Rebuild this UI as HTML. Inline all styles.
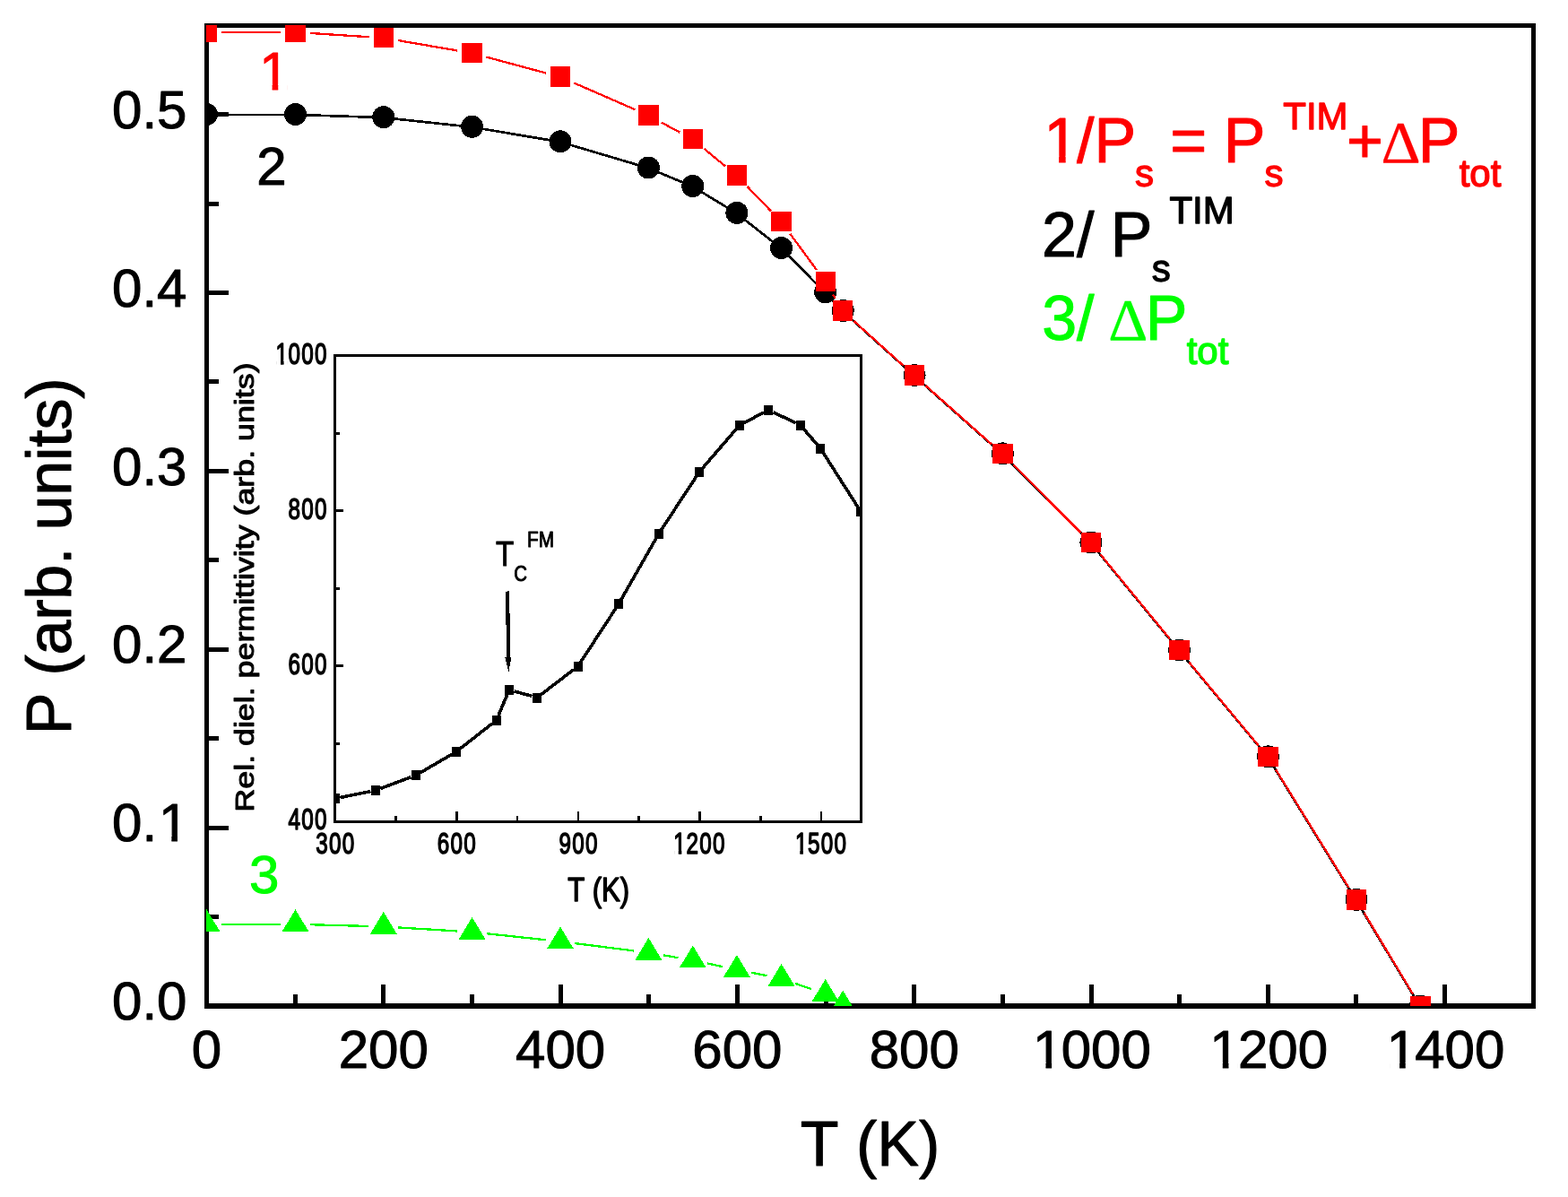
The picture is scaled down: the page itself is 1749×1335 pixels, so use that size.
<!DOCTYPE html>
<html lang="en"><head><meta charset="utf-8"><title>Polarization versus temperature</title>
<style>html,body{margin:0;padding:0;background:#fff}body{width:1749px;height:1335px;overflow:hidden}svg{display:block}text{font-family:"Liberation Sans",sans-serif;font-kerning:none;font-variant-ligatures:none}text.sym{font-family:"Liberation Serif","DejaVu Serif",serif}</style>
</head><body>
<svg width="1749" height="1335" viewBox="0 0 1749 1335">
<rect x="0" y="0" width="1749" height="1335" fill="#fff"/>
<defs><clipPath id="cm"><rect x="230" y="28" width="1483" height="1094"/></clipPath>
<clipPath id="ci"><rect x="372.2" y="395.3" width="589.4" height="522.6"/></clipPath>
<clipPath id="k1"><path clip-rule="evenodd" d="M-10 -32.8 H88.07 V13.12 H-10 Z M2.13 -4.4 H8.33 V2.25 H2.13 Z M13.03 -4.4 H18.97 V2.25 H13.03 Z"/></clipPath><clipPath id="k2"><path clip-rule="evenodd" d="M-10 -32.8 H88.07 V13.12 H-10 Z M2.13 -4.4 H8.33 V2.25 H2.13 Z M13.03 -4.4 H18.97 V2.25 H13.03 Z"/></clipPath><clipPath id="k3"><path clip-rule="evenodd" d="M-10 -32.8 H88.07 V13.12 H-10 Z M2.13 -4.4 H8.33 V2.25 H2.13 Z M13.03 -4.4 H18.97 V2.25 H13.03 Z"/></clipPath><clipPath id="k4"><path clip-rule="evenodd" d="M-10 -60 H93.41 V24 H-10 Z M55.31 -6.18 H66.28 V2 H55.31 Z M72.88 -6.18 H83.38 V2 H72.88 Z"/></clipPath><clipPath id="k5"><path clip-rule="evenodd" d="M-10 -60 H143.48 V24 H-10 Z M5.27 -6.18 H16.24 V2 H5.27 Z M22.84 -6.18 H33.34 V2 H22.84 Z"/></clipPath><clipPath id="k6"><path clip-rule="evenodd" d="M-10 -60 H143.48 V24 H-10 Z M5.27 -6.18 H16.24 V2 H5.27 Z M22.84 -6.18 H33.34 V2 H22.84 Z"/></clipPath><clipPath id="k7"><path clip-rule="evenodd" d="M-10 -60 H143.48 V24 H-10 Z M5.27 -6.18 H16.24 V2 H5.27 Z M22.84 -6.18 H33.34 V2 H22.84 Z"/></clipPath><clipPath id="k8"><path clip-rule="evenodd" d="M-10 -60 H43.37 V24 H-10 Z M5.27 -6.18 H16.24 V2 H5.27 Z M22.84 -6.18 H33.34 V2 H22.84 Z"/></clipPath><clipPath id="k9"><path clip-rule="evenodd" d="M-10 -70 H115.07 V28 H-10 Z M6.33 -6.93 H19.05 V2 H6.33 Z M26.54 -6.93 H38.71 V2 H26.54 Z"/></clipPath>
</defs>
<g shape-rendering="crispEdges">
<rect x="230.5" y="28.5" width="1480" height="1093.5" fill="none" stroke="#000" stroke-width="5"/>
<rect x="228" y="1119" width="1485" height="6" fill="#000"/>
<g fill="#000"><rect x="233" y="1119.5" width="22" height="5"/><rect x="233" y="920.64" width="22" height="5"/><rect x="233" y="721.78" width="22" height="5"/><rect x="233" y="522.92" width="22" height="5"/><rect x="233" y="324.06" width="22" height="5"/><rect x="233" y="125.2" width="22" height="5"/><rect x="233" y="1020.07" width="11" height="5"/><rect x="233" y="821.21" width="11" height="5"/><rect x="233" y="622.35" width="11" height="5"/><rect x="233" y="423.49" width="11" height="5"/><rect x="233" y="224.63" width="11" height="5"/><rect x="228" y="1097.7" width="5" height="22"/><rect x="425.3" y="1097.7" width="5" height="22"/><rect x="622.6" y="1097.7" width="5" height="22"/><rect x="819.9" y="1097.7" width="5" height="22"/><rect x="1017.2" y="1097.7" width="5" height="22"/><rect x="1214.5" y="1097.7" width="5" height="22"/><rect x="1411.8" y="1097.7" width="5" height="22"/><rect x="1609.1" y="1097.7" width="5" height="22"/><rect x="326.65" y="1108.8" width="5" height="11"/><rect x="523.95" y="1108.8" width="5" height="11"/><rect x="721.25" y="1108.8" width="5" height="11"/><rect x="918.55" y="1108.8" width="5" height="11"/><rect x="1115.85" y="1108.8" width="5" height="11"/><rect x="1313.15" y="1108.8" width="5" height="11"/><rect x="1510.45" y="1108.8" width="5" height="11"/></g>
</g>
<g shape-rendering="crispEdges">
<rect x="373.7" y="396.8" width="586.3" height="519.6" fill="none" stroke="#000" stroke-width="3"/>
<g fill="#000"><rect x="375" y="741.17" width="8" height="3"/><rect x="375" y="568.23" width="8" height="3"/><rect x="375" y="827.63" width="4" height="3"/><rect x="375" y="654.7" width="4" height="3"/><rect x="375" y="481.77" width="4" height="3"/><rect x="508.05" y="905" width="2.5" height="10"/><rect x="643.65" y="905" width="2.5" height="10"/><rect x="779.25" y="905" width="2.5" height="10"/><rect x="914.85" y="905" width="2.5" height="10"/><rect x="440.25" y="910" width="2.5" height="5"/><rect x="575.85" y="910" width="2.5" height="5"/><rect x="711.45" y="910" width="2.5" height="5"/><rect x="847.05" y="910" width="2.5" height="5"/></g>
</g>
<g clip-path="url(#ci)" shape-rendering="crispEdges">
<g stroke="#000" stroke-width="3.6" fill="none"><line x1="379.38" y1="889.53" x2="413.32" y2="882.57"/><line x1="424.43" y1="879.37" x2="458.37" y2="866.73"/><line x1="468.81" y1="861.77" x2="503.99" y2="841.23"/><line x1="513.57" y1="834.72" x2="549.13" y2="806.88"/><line x1="555.95" y1="797.96" x2="565.75" y2="774.74"/><line x1="573.59" y1="770.95" x2="593.51" y2="776.45"/><line x1="603.71" y1="774.48" x2="639.89" y2="746.82"/><line x1="647.68" y1="738.45" x2="686.82" y2="678.65"/><line x1="692.87" y1="668.76" x2="731.83" y2="600.44"/><line x1="737.88" y1="590.55" x2="776.82" y2="531.25"/><line x1="783.79" y1="522.01" x2="821.11" y2="478.69"/><line x1="830.03" y1="471.59" x2="852.07" y2="459.91"/><line x1="862.43" y1="459.71" x2="887.67" y2="471.79"/><line x1="896.68" y1="478.7" x2="911.42" y2="495.8"/><line x1="918.32" y1="505.09" x2="956.88" y2="565.51"/></g>
<g fill="#000"><rect x="368.7" y="885.2" width="10" height="11"/><rect x="414" y="875.9" width="10" height="11"/><rect x="458.8" y="859.2" width="10" height="11"/><rect x="504" y="832.8" width="10" height="11"/><rect x="548.7" y="797.8" width="10" height="11"/><rect x="563" y="763.9" width="10" height="11"/><rect x="594.1" y="772.5" width="10" height="11"/><rect x="639.5" y="737.8" width="10" height="11"/><rect x="685" y="668.3" width="10" height="11"/><rect x="729.7" y="589.9" width="10" height="11"/><rect x="775" y="520.9" width="10" height="11"/><rect x="819.9" y="468.8" width="10" height="11"/><rect x="852.2" y="451.7" width="10" height="11"/><rect x="887.9" y="468.8" width="10" height="11"/><rect x="910.2" y="494.7" width="10" height="11"/><rect x="955" y="564.9" width="10" height="11"/></g>
</g>
<g shape-rendering="crispEdges"><path d="M566 659.5 L567.2 733" stroke="#000" stroke-width="4.2" fill="none"/><path d="M563.2 732.5 L570.6 732.5 L567.4 749.2 Z" fill="#000"/></g>
<g fill="#000" stroke="#000" stroke-linejoin="round">
<g transform="translate(364.6 406) scale(0.74 1)"><g transform="translate(-78.07 0)"><text x="0" y="0" dx="0.98 -0.98 0 0" font-size="32.8" stroke-width="1.5" letter-spacing="1.7" clip-path="url(#k1)">1000</text></g></g>
<g transform="translate(364.6 579.2) scale(0.74 1)"><text x="-58.13" y="0" font-size="32.8" stroke-width="1.5" letter-spacing="1.7">800</text></g>
<g transform="translate(364.6 752.3) scale(0.74 1)"><text x="-58.13" y="0" font-size="32.8" stroke-width="1.5" letter-spacing="1.7">600</text></g>
<g transform="translate(364.6 924.6) scale(0.74 1)"><text x="-58.13" y="0" font-size="32.8" stroke-width="1.5" letter-spacing="1.7">400</text></g>
<g transform="translate(373.7 952.4) scale(0.74 1)"><text x="-29.06" y="0" font-size="32.8" stroke-width="1.5" letter-spacing="1.7">300</text></g>
<g transform="translate(509.3 952.4) scale(0.74 1)"><text x="-29.06" y="0" font-size="32.8" stroke-width="1.5" letter-spacing="1.7">600</text></g>
<g transform="translate(644.9 952.4) scale(0.74 1)"><text x="-29.06" y="0" font-size="32.8" stroke-width="1.5" letter-spacing="1.7">900</text></g>
<g transform="translate(779.5 952.4) scale(0.74 1)"><g transform="translate(-39.03 0)"><text x="0" y="0" dx="0.98 -0.98 0 0" font-size="32.8" stroke-width="1.5" letter-spacing="1.7" clip-path="url(#k2)">1200</text></g></g>
<g transform="translate(915.1 952.4) scale(0.74 1)"><g transform="translate(-39.03 0)"><text x="0" y="0" dx="0.98 -0.98 0 0" font-size="32.8" stroke-width="1.5" letter-spacing="1.7" clip-path="url(#k3)">1500</text></g></g>
<g transform="translate(667.6 1004.5) scale(0.85 1)"><text x="0" y="0" font-size="36.5" stroke-width="1.5" text-anchor="middle">T (K)</text></g>
<text transform="translate(282.7 655.0) scale(0.81 1) rotate(-90)" font-size="35.8" text-anchor="middle" stroke-width="1.2">Rel. diel. permittivity (arb. units)</text>
<g transform="translate(552.9 630.7) scale(0.84 1)"><text x="0" y="0" font-size="39.7" stroke-width="1">T</text></g>
<g transform="translate(573.3 648.2) scale(0.84 1)"><text x="0" y="0" font-size="24.3" stroke-width="1">C</text></g>
<g transform="translate(588 609.6) scale(0.86 1)"><text x="0" y="0" font-size="24.2" stroke-width="1">FM</text></g>
</g>
<g clip-path="url(#cm)" shape-rendering="crispEdges">
<g stroke="#000" stroke-width="2.7" fill="none"><line x1="230.1" y1="127.9" x2="329.1" y2="127.9"/><line x1="329.1" y1="127.9" x2="427.4" y2="131.1"/><line x1="427.4" y1="131.1" x2="526.2" y2="141.7"/><line x1="526.2" y1="141.7" x2="624.6" y2="158.2"/><line x1="624.6" y1="158.2" x2="723" y2="187.4"/><line x1="723" y1="187.4" x2="772.4" y2="207.9"/><line x1="772.4" y1="207.9" x2="821.5" y2="237.8"/><line x1="821.5" y1="237.8" x2="871.2" y2="276.9"/><line x1="871.2" y1="276.9" x2="920.3" y2="326.3"/><line x1="920.3" y1="326.3" x2="939.8" y2="346.9"/><line x1="939.8" y1="346.9" x2="1019.6" y2="418.9"/><line x1="1019.6" y1="418.9" x2="1117.9" y2="506.3"/><line x1="1117.9" y1="506.3" x2="1216.5" y2="605.4"/><line x1="1216.5" y1="605.4" x2="1315.1" y2="725.4"/><line x1="1315.1" y1="725.4" x2="1414.1" y2="844.3"/><line x1="1414.1" y1="844.3" x2="1512.6" y2="1003.8"/><line x1="1512.6" y1="1003.8" x2="1583.9" y2="1122.4"/></g>
<g fill="#000"><circle cx="230.5" cy="127.5" r="12.5"/><circle cx="329.5" cy="127.5" r="12.5"/><circle cx="427.8" cy="130.7" r="12.5"/><circle cx="526.6" cy="141.3" r="12.5"/><circle cx="625" cy="157.8" r="12.5"/><circle cx="723.4" cy="187" r="12.5"/><circle cx="772.8" cy="207.5" r="12.5"/><circle cx="821.9" cy="237.4" r="12.5"/><circle cx="871.6" cy="276.5" r="12.5"/><circle cx="920.7" cy="325.9" r="12.5"/><circle cx="940.2" cy="346.5" r="12.5"/><circle cx="1020" cy="418.5" r="12.5"/><circle cx="1118.3" cy="505.9" r="12.5"/><circle cx="1216.9" cy="605" r="12.5"/><circle cx="1315.5" cy="725" r="12.5"/><circle cx="1414.5" cy="843.9" r="12.5"/><circle cx="1513" cy="1003.4" r="12.5"/><circle cx="1584.3" cy="1122" r="12.5"/></g>
<g stroke="#f00" stroke-width="2.3" fill="none"><line x1="247" y1="35.9" x2="313" y2="35.9"/><line x1="345.97" y1="36.97" x2="411.53" y2="41.23"/><line x1="444.26" y1="45.11" x2="510.24" y2="56.49"/><line x1="542.43" y1="63.59" x2="609.07" y2="81.51"/><line x1="640.12" y1="92.41" x2="708.28" y2="122.19"/><line x1="737.92" y1="136.65" x2="758.28" y2="147.65"/><line x1="785.53" y1="166" x2="809.17" y2="185.5"/><line x1="833.36" y1="207.87" x2="860.14" y2="235.63"/><line x1="881.36" y1="260.8" x2="910.94" y2="301.1"/><line x1="929.17" y1="328.56" x2="931.73" y2="332.84"/><line x1="952.45" y1="358.05" x2="1007.75" y2="407.95"/><line x1="1032.33" y1="429.96" x2="1105.97" y2="495.44"/><line x1="1129.94" y1="518.1" x2="1205.26" y2="593.8"/><line x1="1227.38" y1="618.25" x2="1305.02" y2="712.75"/><line x1="1326.06" y1="738.18" x2="1403.94" y2="831.72"/><line x1="1423.17" y1="858.44" x2="1504.33" y2="989.86"/><line x1="1521.5" y1="1018.04" x2="1575.8" y2="1108.36"/></g>
<g fill="#f00"><rect x="219.3" y="24.2" width="22.4" height="22.4"/><rect x="318.3" y="24.2" width="22.4" height="22.4"/><rect x="416.8" y="30.6" width="22.4" height="22.4"/><rect x="515.3" y="47.6" width="22.4" height="22.4"/><rect x="613.8" y="74.1" width="22.4" height="22.4"/><rect x="712.2" y="117.1" width="22.4" height="22.4"/><rect x="761.6" y="143.8" width="22.4" height="22.4"/><rect x="810.7" y="184.3" width="22.4" height="22.4"/><rect x="860.4" y="235.8" width="22.4" height="22.4"/><rect x="909.5" y="302.7" width="22.4" height="22.4"/><rect x="929" y="335.3" width="22.4" height="22.4"/><rect x="1008.8" y="407.3" width="22.4" height="22.4"/><rect x="1107.1" y="494.7" width="22.4" height="22.4"/><rect x="1205.7" y="593.8" width="22.4" height="22.4"/><rect x="1304.3" y="713.8" width="22.4" height="22.4"/><rect x="1403.3" y="832.7" width="22.4" height="22.4"/><rect x="1501.8" y="992.2" width="22.4" height="22.4"/><rect x="1573.1" y="1110.8" width="22.4" height="22.4"/></g>
<g stroke="#0f0" stroke-width="2.3" fill="none"><line x1="247" y1="1030.8" x2="313" y2="1030.8"/><line x1="345.99" y1="1031.24" x2="411.31" y2="1032.96"/><line x1="444.27" y1="1034.42" x2="510.13" y2="1038.48"/><line x1="543.01" y1="1041.25" x2="608.59" y2="1048.25"/><line x1="641.37" y1="1052.08" x2="707.03" y2="1060.42"/><line x1="739.66" y1="1065.3" x2="756.54" y2="1068.2"/><line x1="788.94" y1="1074.45" x2="805.76" y2="1078.05"/><line x1="838.08" y1="1084.75" x2="855.42" y2="1088.25"/><line x1="887.19" y1="1096.9" x2="905.11" y2="1103.1"/></g>
<g fill="#0f0"><path d="M215.5 1039.1 L245.5 1039.1 L230.5 1014.3 Z"/><path d="M314.5 1039.1 L344.5 1039.1 L329.5 1014.3 Z"/><path d="M412.8 1041.7 L442.8 1041.7 L427.8 1016.9 Z"/><path d="M511.6 1047.8 L541.6 1047.8 L526.6 1023 Z"/><path d="M610 1058.3 L640 1058.3 L625 1033.5 Z"/><path d="M708.4 1070.8 L738.4 1070.8 L723.4 1046 Z"/><path d="M757.8 1079.3 L787.8 1079.3 L772.8 1054.5 Z"/><path d="M806.9 1089.8 L836.9 1089.8 L821.9 1065 Z"/><path d="M856.6 1099.8 L886.6 1099.8 L871.6 1075 Z"/><path d="M905.7 1116.8 L935.7 1116.8 L920.7 1092 Z"/><path d="M925.2 1129.3 L955.2 1129.3 L940.2 1104.5 Z"/></g>
</g>
<g fill="#000" stroke="#000" stroke-linejoin="round">
<text x="125.09" y="1137.2" font-size="60" stroke-width="1">0.0</text>
<g transform="translate(125.09 938.34)"><text x="0" y="0" dx="0 0 1.8" font-size="60" stroke-width="1" clip-path="url(#k4)">0.1</text></g>
<text x="125.09" y="739.48" font-size="60" stroke-width="1">0.2</text>
<text x="125.09" y="540.62" font-size="60" stroke-width="1">0.3</text>
<text x="125.09" y="341.76" font-size="60" stroke-width="1">0.4</text>
<text x="125.09" y="142.9" font-size="60" stroke-width="1">0.5</text>
<text x="213.82" y="1191.2" font-size="60" stroke-width="1">0</text>
<text x="377.75" y="1191.2" font-size="60" stroke-width="1">200</text>
<text x="575.05" y="1191.2" font-size="60" stroke-width="1">400</text>
<text x="772.35" y="1191.2" font-size="60" stroke-width="1">600</text>
<text x="969.65" y="1191.2" font-size="60" stroke-width="1">800</text>
<g transform="translate(1150.26 1191.2)"><text x="0" y="0" dx="1.8 -1.8 0 0" font-size="60" stroke-width="1" clip-path="url(#k5)">1000</text></g>
<g transform="translate(1347.56 1191.2)"><text x="0" y="0" dx="1.8 -1.8 0 0" font-size="60" stroke-width="1" clip-path="url(#k6)">1200</text></g>
<g transform="translate(1544.86 1191.2)"><text x="0" y="0" dx="1.8 -1.8 0 0" font-size="60" stroke-width="1" clip-path="url(#k7)">1400</text></g>
<text x="892.8" y="1299.6" font-size="70" stroke-width="1">T (K)</text>
<text transform="translate(78.7 819.25) rotate(-90)" font-size="70" letter-spacing="-0.22" stroke-width="1">P (arb. units)</text>
<text x="286.2" y="205.8" font-size="60" stroke-width="1">2</text>
</g>
<g fill="#f00" stroke="#f00" stroke-linejoin="round"><g transform="translate(287.4 100)"><text x="0" y="0" dx="1.8" font-size="60" stroke-width="1" clip-path="url(#k8)">1</text></g></g>
<g fill="#0f0" stroke="#0f0" stroke-linejoin="round"><text x="277.9" y="995.6" font-size="60" stroke-width="1">3</text></g>
<g fill="#f00" stroke="#f00" stroke-linejoin="round">
<g transform="translate(1162.1 180.6)"><text x="0" y="0" dx="2.1 -2.1 0" font-size="70" stroke-width="1" clip-path="url(#k9)">1/P</text></g>
<text x="1266" y="208" font-size="42" stroke-width="1.3">s</text>
<text x="1305.3" y="180.6" font-size="70" stroke-width="1">=</text>
<text x="1364.7" y="180.6" font-size="70" stroke-width="1">P</text>
<text x="1410.6" y="208" font-size="42" stroke-width="1.3">s</text>
<text x="1431.3" y="143.6" font-size="42" stroke-width="1.3">TIM</text>
<text x="1502.1" y="180.6" font-size="70" stroke-width="1">+</text>
<g transform="translate(1540.6 180.8) scale(1.06 1)"><text x="0" y="0" font-size="64.8" class="sym" stroke-width="0.3">Δ</text></g>
<text x="1581.7" y="180.6" font-size="70" stroke-width="1">P</text>
<text x="1627.7" y="208" font-size="42" stroke-width="1.3">tot</text>
</g>
<g fill="#000" stroke="#000" stroke-linejoin="round">
<text x="1162" y="286.4" font-size="70" stroke-width="1">2/</text>
<text x="1238.7" y="286.4" font-size="70" stroke-width="1">P</text>
<text x="1284.8" y="313.8" font-size="42" stroke-width="1.3">s</text>
<text x="1304.4" y="249.4" font-size="42" stroke-width="1.3">TIM</text>
</g>
<g fill="#0f0" stroke="#0f0" stroke-linejoin="round">
<text x="1162.2" y="378.7" font-size="70" stroke-width="1">3/</text>
<g transform="translate(1236.3 378.9) scale(1.06 1)"><text x="0" y="0" font-size="64.8" class="sym" stroke-width="0.3">Δ</text></g>
<text x="1277.7" y="378.7" font-size="70" stroke-width="1">P</text>
<text x="1323.7" y="406.1" font-size="42" stroke-width="1.3">tot</text>
</g>
</svg></body></html>
